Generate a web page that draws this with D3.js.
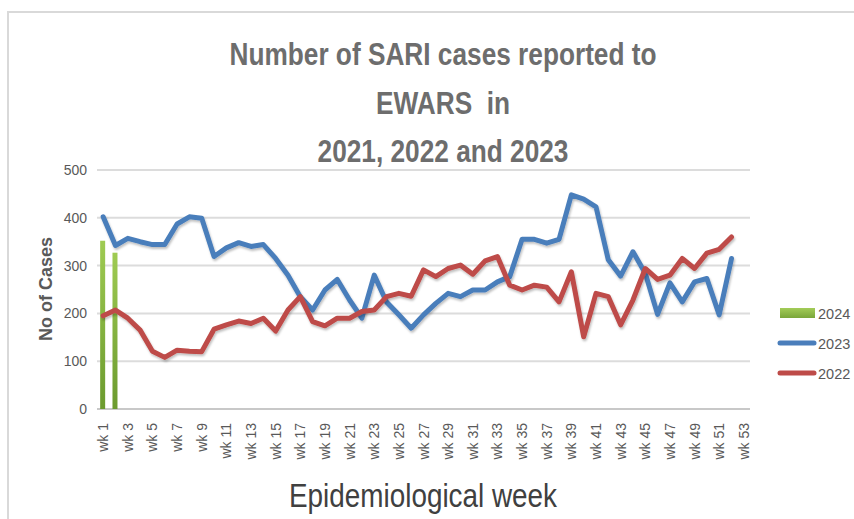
<!DOCTYPE html>
<html>
<head>
<meta charset="utf-8">
<script src="https://cdn.jsdelivr.net/npm/d3@7"></script>
<style>
  body { margin: 0; background: #fff; }
  svg { display: block; }
</style>
</head>
<body>
<svg width="854" height="519"></svg>
<script>
const svgWidth = 854;
const svgHeight = 519;

// weeks 1..53 on the axis, labels every other week
const weeks = d3.range(1, 54).map(i => "wk " + i);

const cases2024 = [352, 327];
const cases2023 = [402, 342, 357, 350, 344, 344, 387, 402, 399, 319,
    337, 348, 340, 344, 315, 280, 235, 207, 249, 271,
    228, 190, 280, 224, 197, 169, 197, 221, 242, 235,
    249, 249, 266, 277, 355, 355, 347, 355, 448, 439,
    423, 312, 278, 329, 284, 198, 264, 224, 266, 273,
    197, 315];
const cases2022 = [195, 207, 190, 165, 121, 108, 123, 121, 120, 167,
    176, 184, 179, 190, 163, 207, 235, 183, 174, 190,
    190, 204, 207, 235, 242, 236, 291, 277, 294, 301,
    282, 310, 319, 259, 249, 259, 255, 224, 287, 151,
    242, 235, 176, 228, 294, 271, 280, 315, 294, 326,
    334, 360];

const yTicks = [0, 100, 200, 300, 400, 500];
const titleLines = ["Number of SARI cases reported to", "EWARS  in", "2021, 2022 and 2023"];

const legendItems = [
    { name: "2024", type: "bar" },
    { name: "2023", type: "line", color: "#4a7ebb" },
    { name: "2022", type: "line", color: "#be4b48" }
];

const plotLeft = 97, plotRight = 750, plotTop = 170, plotBottom = 409;
const narrow = 0.82; // squeeze Arial so it looks like Calibri

const svg = d3.select("svg");

const defs = svg.append("defs");
const grad = defs.append("linearGradient")
    .attr("id", "greenGrad")
    .attr("x1", 0).attr("y1", 0).attr("x2", 0).attr("y2", 1);
grad.append("stop").attr("offset", "0%").attr("stop-color", "#9fcb52");
grad.append("stop").attr("offset", "100%").attr("stop-color", "#6b9a2e");

const gradH = defs.append("linearGradient")
    .attr("id", "greenGradLeg")
    .attr("x1", 0).attr("y1", 0).attr("x2", 0).attr("y2", 1);
gradH.append("stop").attr("offset", "0%").attr("stop-color", "#a3cc58");
gradH.append("stop").attr("offset", "100%").attr("stop-color", "#7aa63a");

defs.append("filter")
    .attr("id", "shadow")
    .attr("x", "-5%").attr("y", "-5%").attr("width", "110%").attr("height", "120%")
    .append("feDropShadow")
    .attr("dx", 1).attr("dy", 2).attr("stdDeviation", 1.2)
    .attr("flood-color", "#000").attr("flood-opacity", 0.25);

// outer chart border
svg.append("rect")
    .attr("x", 8).attr("y", 12)
    .attr("width", 900).attr("height", 600)
    .attr("fill", "none")
    .attr("stroke", "#d9d9d9")
    .attr("stroke-width", 2);

// title
svg.append("g").selectAll("text")
    .data(titleLines)
    .enter().append("text")
    .attr("transform", (d, i) => `translate(443,${65 + i * 48.5}) scale(${narrow},1)`)
    .attr("text-anchor", "middle")
    .attr("font-family", "'Liberation Sans', Arial, sans-serif")
    .attr("font-weight", "bold")
    .attr("font-size", 32)
    .attr("fill", "#6d6d6d")
    .style("white-space", "pre")
    .text(d => d);

const x = d3.scaleBand()
    .domain(weeks)
    .range([plotLeft, plotRight])
    .padding(0);

const y = d3.scaleLinear()
    .domain([0, 500])
    .range([plotBottom, plotTop]);

// gridlines
svg.append("g").selectAll("line")
    .data(yTicks)
    .enter().append("line")
    .attr("x1", plotLeft)
    .attr("x2", plotRight)
    .attr("y1", d => y(d))
    .attr("y2", d => y(d))
    .attr("stroke", d => d === 0 ? "#c8c8c8" : "#dcdcdc")
    .attr("stroke-width", 2);

// y axis labels
const yAxis = svg.append("g")
    .attr("transform", `translate(${plotLeft},0)`)
    .call(d3.axisLeft(y).tickValues(yTicks).tickSize(0).tickPadding(10));
yAxis.select(".domain").remove();
yAxis.selectAll("text")
    .attr("font-family", "'Liberation Sans', Arial, sans-serif")
    .attr("font-size", 14)
    .attr("fill", "#595959");

// x axis labels
const xAxis = svg.append("g")
    .attr("transform", `translate(0,${plotBottom})`)
    .call(d3.axisBottom(x)
        .tickValues(weeks.filter((d, i) => i % 2 === 0))
        .tickSize(0));
xAxis.select(".domain").remove();
xAxis.selectAll("text")
    .attr("font-family", "'Liberation Sans', Arial, sans-serif")
    .attr("font-size", 14)
    .attr("fill", "#595959")
    .attr("text-anchor", "end")
    .attr("dy", null)
    .attr("y", 0)
    .attr("transform", "translate(5,14) rotate(-90)");

// 2024 bars
svg.append("g").selectAll("rect")
    .data(cases2024)
    .enter().append("rect")
    .attr("x", (d, i) => x(weeks[i]) + x.bandwidth() / 2 - 3)
    .attr("width", 5)
    .attr("y", d => y(d))
    .attr("height", d => y(0) - y(d))
    .attr("fill", "url(#greenGrad)");

// lines
const line = d3.line()
    .x((d, i) => x(weeks[i]) + x.bandwidth() / 2)
    .y(d => y(d));

svg.append("path")
    .datum(cases2023)
    .attr("d", line)
    .attr("fill", "none")
    .attr("stroke", "#4a7ebb")
    .attr("stroke-width", 5)
    .attr("stroke-linejoin", "round")
    .attr("stroke-linecap", "round")
    .attr("filter", "url(#shadow)");

svg.append("path")
    .datum(cases2022)
    .attr("d", line)
    .attr("fill", "none")
    .attr("stroke", "#be4b48")
    .attr("stroke-width", 5)
    .attr("stroke-linejoin", "round")
    .attr("stroke-linecap", "round")
    .attr("filter", "url(#shadow)");

// axis titles
svg.append("text")
    .attr("transform", "translate(52,289) rotate(-90)")
    .attr("text-anchor", "middle")
    .attr("font-family", "'Liberation Sans', Arial, sans-serif")
    .attr("font-weight", "bold")
    .attr("font-size", 18)
    .attr("fill", "#595959")
    .text("No of Cases");

svg.append("text")
    .attr("transform", `translate(423,507) scale(${narrow},1)`)
    .attr("text-anchor", "middle")
    .attr("font-family", "'Liberation Sans', Arial, sans-serif")
    .attr("font-size", 34)
    .attr("fill", "#404040")
    .text("Epidemiological week");

// legend
const legend = svg.append("g").selectAll("g")
    .data(legendItems)
    .enter().append("g")
    .attr("transform", (d, i) => `translate(778,${313 + i * 30})`);

legend.filter(d => d.type === "bar").append("rect")
    .attr("x", 2).attr("y", -5)
    .attr("width", 35).attr("height", 10)
    .attr("fill", "url(#greenGradLeg)");

legend.filter(d => d.type === "line").append("line")
    .attr("x1", 2).attr("x2", 36)
    .attr("y1", 0).attr("y2", 0)
    .attr("stroke", d => d.color)
    .attr("stroke-width", 5)
    .attr("stroke-linecap", "round");

legend.append("text")
    .attr("x", 40)
    .attr("y", 5.5)
    .attr("font-family", "'Liberation Sans', Arial, sans-serif")
    .attr("font-size", 14.5)
    .attr("fill", "#595959")
    .text(d => d.name);
</script>
</body>
</html>
